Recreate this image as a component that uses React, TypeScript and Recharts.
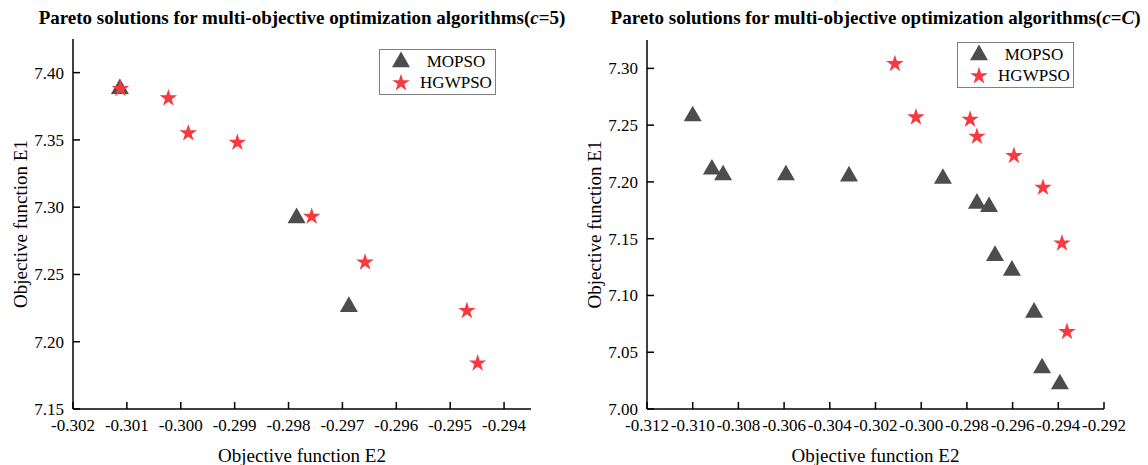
import React from 'react';
import { ScatterChart, Scatter, XAxis, YAxis, Symbols } from 'recharts';

const FONT = '"Liberation Serif", "Times New Roman", serif';
const TRI = '#4d4d4d';
const STAR = '#f53b40';

// c = 5
const mopsoE2_c5 = [-0.30113, -0.29785, -0.29688];
const mopsoE1_c5 = [7.388, 7.292, 7.226];
const hgwpsoE2_c5 = [-0.30112, -0.30023, -0.29986, -0.29895, -0.29757, -0.29658, -0.29469, -0.29449];
const hgwpsoE1_c5 = [7.388, 7.381, 7.355, 7.348, 7.293, 7.259, 7.223, 7.184];
const xTicks_c5 = [-0.302, -0.301, -0.3, -0.299, -0.298, -0.297, -0.296, -0.295, -0.294];
const yTicks_c5 = [7.15, 7.2, 7.25, 7.3, 7.35, 7.4];

// c = C
const mopsoE2_cC = [-0.31, -0.30916, -0.30867, -0.30592, -0.30316, -0.29905, -0.29756, -0.29703, -0.29677, -0.29603, -0.29506, -0.29471, -0.29393];
const mopsoE1_cC = [7.258, 7.211, 7.206, 7.206, 7.205, 7.203, 7.181, 7.178, 7.135, 7.122, 7.085, 7.036, 7.022];
const hgwpsoE2_cC = [-0.30115, -0.30023, -0.29786, -0.29756, -0.29594, -0.29467, -0.29384, -0.29362];
const hgwpsoE1_cC = [7.304, 7.257, 7.255, 7.24, 7.223, 7.195, 7.146, 7.068];
const xTicks_cC = [-0.312, -0.31, -0.308, -0.306, -0.304, -0.302, -0.3, -0.298, -0.296, -0.294, -0.292];
const yTicks_cC = [7.0, 7.05, 7.1, 7.15, 7.2, 7.25, 7.3];

const toPoints = (xs: number[], ys: number[]) => xs.map((x, i) => ({ x, y: ys[i] }));

const triangle = (p: any) => <Symbols type="triangle" size={140} cx={p.cx} cy={p.cy} fill={TRI} />;
const star = (p: any) => <Symbols type="star" size={95} cx={p.cx} cy={p.cy} fill={STAR} />;

const XTick = (p: any) => (
  <text x={p.x} y={p.y} dy="0.71em" textAnchor="middle" fill="#000" fontSize={17} fontFamily={FONT} style={{ fontFamily: FONT }}>
    {Number(p.payload.value).toFixed(3)}
  </text>
);
const YTick = (p: any) => (
  <text x={p.x} y={p.y} dy="0.35em" textAnchor="end" fill="#000" fontSize={17} fontFamily={FONT} style={{ fontFamily: FONT }}>
    {Number(p.payload.value).toFixed(2)}
  </text>
);

const legendItems = [
  { name: 'MOPSO', type: 'triangle', color: TRI, size: 140 },
  { name: 'HGWPSO', type: 'star', color: STAR, size: 95 },
];

const LegendBox = ({ left, top }: { left: number; top: number }) => (
  <div
    style={{
      position: 'absolute',
      left,
      top,
      width: 115,
      height: 43,
      border: '1px solid #808080',
      background: '#fff',
      fontFamily: FONT,
      fontSize: 17,
      color: '#000',
      paddingTop: 1,
    }}
  >
    {legendItems.map((it) => (
      <div key={it.name} style={{ display: 'flex', alignItems: 'center', height: 21 }}>
        <svg width={40} height={21}>
          <Symbols type={it.type as any} size={it.size} cx={21} cy={11} fill={it.color} />
        </svg>
        <div style={{ width: 72, textAlign: 'center', lineHeight: '21px' }}>{it.name}</div>
      </div>
    ))}
  </div>
);

function Panel(props: {
  left: number;
  param: React.ReactNode;
  mopso: { x: number; y: number }[];
  hgwpso: { x: number; y: number }[];
  xDomain: [number, number];
  yDomain: [number, number];
  xTicks: number[];
  yTicks: number[];
  legendLeft: number;
  legendTop: number;
  margin: { top: number; right: number; bottom: number; left: number };
}) {
  const { left, param, mopso, hgwpso, xDomain, yDomain, xTicks, yTicks, margin } = props;
  const plotLeft = margin.left + 61;
  const plotW = 574 - margin.right - plotLeft;
  return (
    <div style={{ position: 'absolute', left, top: 0, width: 574, height: 465, fontFamily: FONT }}>
      <div
        style={{
          position: 'absolute',
          left: plotLeft,
          width: plotW,
          top: 6,
          display: 'flex',
          justifyContent: 'center',
          whiteSpace: 'nowrap',
          fontFamily: FONT,
          fontWeight: 'bold',
          fontSize: 19,
          lineHeight: '24px',
        }}
      >
        <span>
          Pareto solutions for multi-objective optimization algorithms(<i>c</i>={param})
        </span>
      </div>
      <ScatterChart width={574} height={465} margin={margin} style={{ fontFamily: FONT }}>
        <XAxis
          type="number"
          dataKey="x"
          domain={xDomain}
          ticks={xTicks}
          allowDataOverflow
          interval={0}
          height={48}
          tickSize={-7}
          tickMargin={17}
          axisLine={{ stroke: '#000', strokeWidth: 1.5 }}
          tickLine={{ stroke: '#000', strokeWidth: 1.5 }}
          tick={XTick}
          label={{
            content: ({ viewBox }: any) => (
              <text
                x={viewBox.x + viewBox.width / 2}
                y={462}
                textAnchor="middle"
                fontFamily={FONT}
                fontSize={19}
                fill="#000"
              >
                Objective function E2
              </text>
            ),
          }}
        />
        <YAxis
          type="number"
          dataKey="y"
          domain={yDomain}
          ticks={yTicks}
          allowDataOverflow
          interval={0}
          width={61}
          tickSize={-7}
          tickMargin={16}
          axisLine={{ stroke: '#000', strokeWidth: 1.5 }}
          tickLine={{ stroke: '#000', strokeWidth: 1.5 }}
          tick={YTick}
          label={{
            content: ({ viewBox }: any) => {
              const cx = 20;
              const cy = viewBox.y + viewBox.height / 2;
              return (
                <text
                  x={cx}
                  y={cy}
                  transform={`rotate(-90 ${cx} ${cy})`}
                  textAnchor="middle"
                  dominantBaseline="central"
                  fontFamily={FONT}
                  fontSize={19}
                  fill="#000"
                >
                  Objective function E1
                </text>
              );
            },
          }}
        />
        <Scatter name="MOPSO" data={mopso} shape={triangle} isAnimationActive={false} />
        <Scatter name="HGWPSO" data={hgwpso} shape={star} isAnimationActive={false} />
      </ScatterChart>
      <LegendBox left={props.legendLeft} top={props.legendTop} />
    </div>
  );
}

export default function App() {
  return (
    <div style={{ position: 'absolute', left: 0, top: 0, width: 1148, height: 465, background: '#fff' }}>
      <Panel
        left={0}
        param="5"
        mopso={toPoints(mopsoE2_c5, mopsoE1_c5)}
        hgwpso={toPoints(hgwpsoE2_c5, hgwpsoE1_c5)}
        xDomain={[-0.302, -0.2935]}
        yDomain={[7.15, 7.425]}
        xTicks={xTicks_c5}
        yTicks={yTicks_c5}
        legendLeft={379}
        legendTop={49}
        margin={{ top: 39, right: 43, bottom: 8, left: 12 }}
      />
      <Panel
        left={574}
        param={<i>C</i>}
        mopso={toPoints(mopsoE2_cC, mopsoE1_cC)}
        hgwpso={toPoints(hgwpsoE2_cC, hgwpsoE1_cC)}
        xDomain={[-0.312, -0.292]}
        yDomain={[7.0, 7.325]}
        xTicks={xTicks_cC}
        yTicks={yTicks_cC}
        legendLeft={383}
        legendTop={42}
        margin={{ top: 40, right: 44, bottom: 8, left: 12 }}
      />
    </div>
  );
}
